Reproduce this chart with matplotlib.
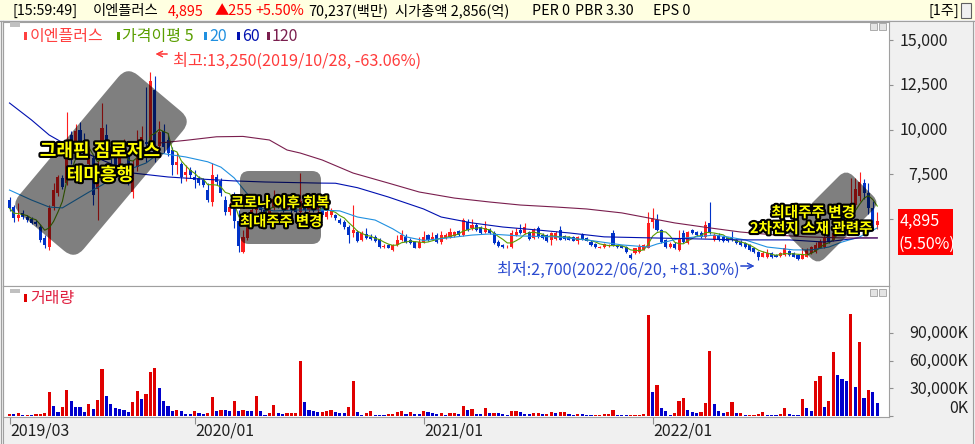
import numpy as np
import pandas as pd
import matplotlib
matplotlib.use('Agg')
import matplotlib.pyplot as plt
import matplotlib.patheffects as pe
from matplotlib.patches import Rectangle, FancyBboxPatch
from matplotlib.lines import Line2D
from matplotlib.transforms import Affine2D, blended_transform_factory, offset_copy

plt.rcParams['font.family'] = ['Noto Sans CJK KR', 'DejaVu Sans']

# ---- 데이터 (주봉, 2019/03/18 ~ 2022/12/26) ----
opens = [6050, 5650, 5050, 5350, 5100, 5000, 4850, 4550, 3950, 3450,
         5700, 6450, 7300, 7000, 9700, 9100, 10000, 9300, 8100, 8400,
         6700, 9000, 9700, 9000, 8470, 8020, 8750, 8600, 6500, 7900,
         8750, 9300, 9200, 12200, 9100, 9900, 9400, 8850, 8000, 8100,
         7450, 7740, 7350, 7300, 7180, 6620, 5950, 7350, 7120, 6060,
         5390, 6170, 4900, 3150, 3930, 4700, 5500, 5900, 5500, 5300,
         5600, 6100, 5800, 5600, 5800, 5500, 5400, 6000, 5500, 5800,
         5500, 5600, 5100, 5200, 5200, 4950, 4830, 4550, 4200, 4270,
         3800, 4150, 4000, 4000, 3880, 3450, 3550, 3270, 3550, 3830,
         4000, 3800, 3700, 3380, 3700, 4100, 3830, 4100, 3720, 3950,
         4000, 4050, 4300, 4100, 4830, 4500, 4660, 4550, 4270, 4400,
         4220, 3720, 3540, 3470, 3430, 4100, 4380, 4220, 4270, 3940,
         4500, 4100, 4100, 3830, 3880, 4380, 4050, 4000, 4000, 3770,
         4100, 3940, 3720, 3600, 3400, 3430, 3500, 4200, 3500, 3500,
         3430, 3000, 3100, 3150, 3270, 3380, 4830, 4940, 4380, 3830,
         3430, 3600, 3270, 4220, 3660, 4380, 4270, 4220, 4000, 4770,
         3830, 4100, 4000, 3950, 3990, 3830, 3720, 3660, 3550, 3380,
         3150, 2880, 2900, 3100, 3000, 2930, 3000, 3200, 3100, 2990,
         2780, 2900, 3100, 3150, 3400, 3450, 4100, 3830, 4550, 5060,
         4500, 4900, 5800, 6300, 7000, 6450, 5600, 4640]
highs = [6250, 5800, 5900, 5500, 5250, 5100, 4950, 4700, 4100, 5800,
         7000, 7460, 7450, 11000, 9900, 10300, 10400, 9800, 9100, 8600,
         8300, 11490, 10300, 9300, 8900, 9100, 9500, 8700, 8300, 9980,
         10200, 12400, 13250, 13000, 10500, 10300, 9800, 9000, 8700, 8200,
         8000, 7900, 7740, 7400, 7300, 7000, 8130, 7500, 7300, 6300,
         5950, 6500, 5500, 4400, 4900, 5800, 6300, 6100, 5700, 5800,
         6600, 6200, 5900, 6000, 5900, 5700, 7570, 6100, 6000, 5900,
         5800, 5700, 5500, 5600, 5300, 5050, 4950, 4650, 5780, 4400,
         4300, 4500, 4150, 4100, 3950, 3600, 3600, 3600, 4100, 4400,
         4150, 3950, 3750, 4000, 4300, 4150, 4280, 4200, 4300, 4200,
         4500, 4350, 4400, 5050, 5000, 5000, 4750, 4600, 4900, 4500,
         4300, 3800, 3600, 3550, 4400, 4500, 4700, 4750, 4350, 4500,
         4600, 4200, 4150, 4250, 4300, 4600, 4100, 4050, 4050, 4050,
         4200, 4000, 3800, 3650, 3500, 3650, 3600, 4400, 3550, 3550,
         3500, 3100, 3400, 3600, 3600, 5400, 5600, 5300, 4450, 3900,
         3700, 3700, 4380, 4380, 4350, 4450, 4350, 4300, 4900, 5950,
         4200, 4200, 4050, 4000, 4300, 3900, 3800, 3700, 3600, 3400,
         3200, 3200, 3300, 3150, 3050, 3150, 3600, 3250, 3150, 3050,
         3400, 3350, 3500, 3700, 3900, 4100, 4300, 4500, 5560, 5200,
         5100, 7300, 7300, 7630, 7250, 7000, 6000, 5400]
lows = [5450, 4850, 4900, 5000, 4850, 4700, 4600, 3700, 3380, 3270,
        5500, 6300, 6700, 6900, 8100, 8800, 8800, 8400, 7900, 5780,
        4950, 8800, 8700, 8000, 7600, 7800, 8600, 6900, 6200, 7700,
        8600, 8200, 9000, 8200, 8750, 8700, 8500, 7460, 7500, 7000,
        7150, 7300, 6730, 6900, 6800, 5950, 5700, 6900, 6300, 5250,
        5200, 4500, 3150, 3100, 3800, 4600, 5300, 5300, 5000, 5200,
        5500, 5600, 5400, 5500, 5300, 5250, 5300, 5300, 5400, 5400,
        5400, 5100, 5000, 5100, 4950, 4700, 4450, 3650, 4000, 3700,
        3750, 3900, 3850, 3700, 3400, 3380, 3350, 3200, 3500, 3780,
        3650, 3600, 3350, 3350, 3650, 3780, 3800, 3650, 3600, 3900,
        3950, 4000, 4050, 4050, 4300, 4400, 4300, 4150, 4200, 4150,
        3600, 3450, 3380, 3400, 3400, 4050, 4150, 4150, 3800, 3900,
        3950, 3900, 3700, 3550, 3850, 3800, 3850, 3800, 3750, 3600,
        3800, 3750, 3500, 3400, 3350, 3400, 3450, 3500, 3400, 3350,
        3100, 2760, 3050, 3100, 3250, 3350, 4500, 4300, 3650, 3380,
        3380, 3330, 3200, 3650, 3600, 4150, 4050, 3950, 3950, 4150,
        3780, 3780, 3720, 3720, 3780, 3600, 3500, 3380, 3220, 3100,
        2700, 2850, 2800, 2830, 2850, 2900, 2950, 2950, 2850, 2730,
        2750, 2880, 3050, 3100, 3350, 3400, 3650, 3780, 4400, 4700,
        4400, 4800, 5600, 6000, 6100, 5300, 4400, 4450]
closes = [5600, 5050, 5250, 5100, 4950, 4800, 4700, 3850, 3550, 5600,
          6600, 7350, 6800, 9300, 8400, 9950, 9200, 8600, 8850, 6350,
          8000, 10100, 8970, 8300, 7850, 8860, 9300, 7200, 8000, 8800,
          9600, 9200, 12700, 8700, 9850, 9000, 8700, 8020, 8200, 7350,
          7620, 7460, 7180, 7000, 6900, 6060, 7460, 7070, 6450, 5390,
          5670, 4900, 3500, 4000, 4660, 5500, 5900, 5500, 5300, 5600,
          6100, 5800, 5600, 5800, 5500, 5400, 6000, 5500, 5800, 5500,
          5700, 5200, 5400, 5500, 5050, 4780, 4550, 4100, 4380, 3770,
          4200, 3940, 3900, 3770, 3430, 3500, 3380, 3550, 3830, 4100,
          3700, 3650, 3380, 3700, 4000, 3830, 4000, 3720, 4100, 4100,
          4270, 4250, 4100, 4940, 4380, 4660, 4390, 4220, 4500, 4220,
          3660, 3490, 3430, 3500, 4220, 4270, 4220, 4550, 3880, 4380,
          4000, 3950, 3770, 4220, 4220, 3830, 3880, 3830, 3770, 4000,
          3830, 3770, 3550, 3430, 3440, 3600, 3530, 3550, 3450, 3380,
          3150, 2830, 3380, 3430, 3550, 4770, 5060, 4380, 3720, 3430,
          3600, 3380, 3940, 3720, 4270, 4220, 4100, 3990, 4660, 4220,
          4100, 3830, 3770, 3770, 3830, 3660, 3550, 3430, 3270, 3150,
          2880, 3100, 3100, 2880, 2880, 3100, 3380, 3000, 2880, 2760,
          3050, 3270, 3430, 3550, 3700, 3940, 3720, 4220, 5200, 4770,
          4900, 5700, 6700, 7070, 6450, 5600, 4600, 4895]
# 거래량 (천주)
volumes = [2200, 2000, 3300, 1100, 1200, 1100, 2200, 2300, 3300, 26000,
           10900, 4300, 9800, 28300, 16300, 9800, 9700, 4300, 13000, 7600,
           17400, 51100, 21700, 13000, 8700, 7600, 6500, 4300, 15200, 27200,
           18500, 23900, 47800, 52200, 30400, 16300, 10900, 5400, 6500, 5400,
           2200, 2100, 5400, 3300, 2200, 3300, 20600, 5400, 6500, 6400,
           5400, 16300, 5400, 6500, 5400, 5300, 21700, 5400, 1100, 3300,
           12000, 3300, 2200, 3300, 3300, 3400, 59800, 15200, 6500, 5400,
           4300, 4400, 5400, 6500, 4300, 3300, 3200, 9800, 38000, 4300,
           1100, 3300, 5400, 1100, 1050, 1000, 2200, 2200, 4300, 5400,
           2200, 4300, 2200, 2100, 5400, 4300, 3300, 2200, 3300, 1100,
           3300, 3300, 2200, 10900, 6500, 7600, 2200, 2100, 8700, 3300,
           3400, 3200, 2200, 1100, 5400, 5500, 4300, 2200, 2100, 3300,
           3400, 2200, 2300, 4300, 3300, 4300, 4400, 2200, 1100, 2200,
           2100, 1100, 1000, 1100, 1100, 2200, 2200, 6500, 1100, 1050,
           1000, 1100, 1100, 1200, 2200, 109800, 26100, 33700, 8700, 5400,
           1100, 3300, 16300, 19600, 6500, 4300, 3300, 4400, 14100, 70600,
           13000, 5400, 3300, 4300, 15200, 3300, 3400, 1100, 1100, 1100,
           2200, 4300, 1100, 1050, 1000, 2200, 8700, 2200, 1100, 1000,
           18500, 8700, 5400, 38000, 43500, 9800, 16300, 69500, 44600, 40200,
           38000, 110800, 31500, 80400, 19600, 28300, 26100, 14100]

# 이동평균선
ma20_x = [0, 5, 9, 12, 15, 18, 21, 24, 28, 31, 34, 37, 40, 45, 48, 51, 54, 56, 60, 65,
          71, 75, 79, 83, 87, 90, 94, 98, 105, 109, 116, 124, 131, 139, 145, 147, 152, 156, 160, 163,
          167, 172, 178, 182, 186, 189, 193, 197]
ma20_y = [6620, 6060, 5670, 5620, 6060, 6500, 6900, 7350, 7850, 8130, 8690, 8580, 8470, 8200, 7900, 7300, 6400, 5650, 5450, 5500,
          5500, 5450, 5110, 4940, 4450, 4000, 3800, 3900, 4100, 4160, 4050, 4000, 3830, 3550, 3430, 3600, 3900, 4000, 4100, 4000,
          3830, 3430, 3270, 3270, 3430, 3710, 4000, 4500]
ma60_x = [0, 5, 9, 13, 28, 36, 43, 51, 58, 70, 74, 79, 86, 94, 98, 105, 112, 120, 127, 135,
          146, 166, 177, 185, 193, 197]
ma60_y = [11490, 10540, 9700, 9140, 7570, 7350, 7240, 7130, 7070, 7010, 7000, 6750, 6230, 5560, 5110, 4780, 4550, 4380, 4220, 4000,
          3940, 3830, 3830, 3710, 3940, 3940]
ma120_x = [34, 40, 47, 53, 59, 63, 66, 71, 78, 86, 93, 101, 109, 116, 124, 131, 139, 145, 151, 159,
           166, 174, 181, 189, 197]
ma120_y = [9250, 9400, 9600, 9620, 9420, 8860, 8690, 8300, 7570, 7010, 6510, 6170, 5950, 5780, 5670, 5560, 5340, 5060, 4780, 4500,
           4270, 4100, 4000, 3940, 3940]

date_ticks = [0, 42, 94, 146]
date_labels = ['2019/03', '2020/01', '2021/01', '2022/01']
price_ticks = [5000, 7500, 10000, 12500, 15000]
vol_ticks = [0, 30000, 60000, 90000]

W, H = 975, 444
RED = '#FF1E1E'
BLUE = '#0032C8'


def fxy(x, y):
    return x / W, 1 - y / H


fig = plt.figure(figsize=(W / 100, H / 100), dpi=100)
fig.patch.set_facecolor('#F0F0F0')

# 상단 정보줄
fig.add_artist(Rectangle((0, 1 - 20.5 / H), 1, 20.5 / H, transform=fig.transFigure,
                         facecolor='#FFFFE1', edgecolor='none'))
fig.add_artist(Line2D([0, 1], [1 - 20.8 / H] * 2, transform=fig.transFigure, color='#A0A0A0', lw=0.8))
for x, s, c in [(12, '[15:59:49]', 'black'), (93, '이엔플러스', 'black'), (168, '4,895', '#FF0000'),
                (215, '▲255', '#FF0000'), (255, '+5.50%', '#FF0000'), (308, '70,237(백만)', 'black'),
                (395, '시가총액 2,856(억)', 'black'), (532, 'PER 0', 'black'), (575, 'PBR 3.30', 'black'),
                (653, 'EPS 0', 'black'), (928, '[1주]', 'black')]:
    fig.text(*fxy(x, 11), s, color=c, fontsize=10.3, va='center', ha='left')
fig.add_artist(Rectangle(fxy(961, 18), 10 / W, 15 / H, transform=fig.transFigure,
                         facecolor='#F0F0F0', edgecolor='#606060', lw=0.8))

# 패널
ax_p = fig.add_axes([3 / W, 1 - 286 / H, 886 / W, 264.5 / H])
ax_v = fig.add_axes([3 / W, 1 - 417.3 / H, 886 / W, 131.3 / H])
for ax in (ax_p, ax_v):
    ax.set_facecolor('white')
    ax.set_xlim(-1.476, 199.66)
    for s in ax.spines.values():
        s.set_color('#A0A0A0')
        s.set_linewidth(0.8)
    ax.yaxis.set_ticks_position('right')
    ax.tick_params(axis='y', direction='out', length=3, width=0.8, color='#909090',
                   labelright=False, labelleft=False)
ax_p.set_ylim(1250, 16050)
ax_v.set_ylim(-1400, 140800)
ax_p.set_xticks([])
ax_p.set_yticks(price_ticks)
ax_v.set_yticks(vol_ticks)
ax_v.set_xticks(date_ticks)
ax_v.tick_params(axis='x', direction='out', length=5, width=0.8, color='#909090', labelbottom=False)

# 캔들
o, h, l, c = map(np.array, (opens, highs, lows, closes))
x = np.arange(len(o))
cols = np.where(c >= o, RED, BLUE)
ax_p.vlines(x, l, h, colors=cols, lw=0.8, zorder=3)
ax_p.bar(x, np.maximum(np.abs(c - o), 45), bottom=np.minimum(o, c), width=0.7,
         color=cols, linewidth=0, zorder=3)

# 이동평균
ma5 = pd.Series(closes).rolling(5, min_periods=1).mean()
ax_p.plot(x, ma5, color='#5A9E00', lw=0.8, zorder=4)
ax_p.plot(ma20_x, ma20_y, color='#2090E0', lw=0.8, zorder=4)
ax_p.plot(ma60_x, ma60_y, color='#0010B0', lw=0.8, zorder=4)
ax_p.plot(ma120_x, ma120_y, color='#7A1E4E', lw=0.8, zorder=4)

# 거래량 (전주 대비 증가 빨강 / 감소 파랑)
v = np.array(volumes)
vup = np.r_[True, v[1:] >= v[:-1]]
ax_v.bar(x, v, width=0.72, color=np.where(vup, '#E00000', '#0000CC'), linewidth=0)

# 축 라벨
tp = blended_transform_factory(ax_p.transAxes, ax_p.transData)
for t in price_ticks[1:]:
    ax_p.text(1.0666, t, f'{t:,}', transform=offset_copy(tp, fig=fig, y=-1, units='dots'),
              ha='right', va='center', fontsize=11.5, color='#202020', clip_on=False)
tv = blended_transform_factory(ax_v.transAxes, ax_v.transData)
for t in vol_ticks:
    dy = 8 if t == 0 else -1
    ax_v.text(1.0891, t, f'{t:,}K', transform=offset_copy(tv, fig=fig, y=dy, units='dots'),
              ha='right', va='center', fontsize=11.5, color='#202020', clip_on=False)
td = offset_copy(blended_transform_factory(ax_v.transData, fig.transFigure), fig=fig, x=1, units='dots')
for t, s in zip(date_ticks, date_labels):
    ax_v.text(t, 1 - 431 / H, s, transform=td, ha='left', va='center', fontsize=11.5,
              color='#202020', clip_on=False)

# 현재가 박스
fig.add_artist(Rectangle(fxy(898, 255), 55 / W, 46 / H, transform=fig.transFigure,
                         facecolor='#FF0000', edgecolor='none'))
fig.text(*fxy(900, 221), f'{closes[-1]:,}', color='white', fontsize=11.5, va='center')
fig.text(*fxy(899, 244), '(5.50%)', color='white', fontsize=11.5, va='center')

# 범례
for mx, tx, s, col in [(24, 30, '이엔플러스', '#FF4040'), (117, 122, '가격이평 5', '#5A9E00'),
                       (204, 209, '20', '#2090E0'), (237, 242, '60', '#0010B0'),
                       (267, 272, '120', '#7A1E4E')]:
    fig.add_artist(Rectangle(fxy(mx, 40), 2.5 / W, 8 / H, transform=fig.transFigure,
                             facecolor=col, edgecolor='none'))
    fig.text(*fxy(tx, 36), s, color=col, fontsize=11.5, va='center')
fig.add_artist(Rectangle(fxy(24, 302), 2.5 / W, 8 / H, transform=fig.transFigure,
                         facecolor='#E00000', edgecolor='none'))
fig.text(*fxy(30, 298), '거래량', color='#E02040', fontsize=11.5, va='center')

# 패널 장식
for y0 in (27, 293):
    fig.add_artist(Rectangle(fxy(10, y0), 10 / W, 4.5 / H, transform=fig.transFigure,
                             facecolor='#C0C0C0', edgecolor='none'))
    for bx in (870, 879):
        fig.add_artist(Rectangle(fxy(bx, y0 + 3), 7 / W, 7 / H, transform=fig.transFigure,
                                 facecolor='#E4E4E4', edgecolor='#A0A0A0', lw=0.6))
for lx in (0.5, 2.5):
    fig.add_artist(Line2D([lx / W] * 2, [0, 1 - 21 / H], transform=fig.transFigure, color='#A0A0A0', lw=0.8))
fig.add_artist(Line2D([972.5 / W] * 2, [0, 1 - 21 / H], transform=fig.transFigure, color='#A0A0A0', lw=0.8))

# 최고/최저 표시
fig.text(*fxy(173, 61), '최고:13,250(2019/10/28, -63.06%)', color='#FF3B3B', fontsize=11.7, va='center')
fig.add_artist(plt.annotate('', xy=(153, H - 54), xytext=(170, H - 54), xycoords='figure pixels',
                            textcoords='figure pixels',
                            arrowprops=dict(arrowstyle='->', color='#FF3B3B', lw=0.8)))
fig.text(*fxy(497, 270), '최저:2,700(2022/06/20, +81.30%)', color='#2B4BD0', fontsize=11.7, va='center')
fig.add_artist(plt.annotate('', xy=(757, H - 266), xytext=(738, H - 266), xycoords='figure pixels',
                            textcoords='figure pixels',
                            arrowprops=dict(arrowstyle='->', color='#2B4BD0', lw=0.8)))

# 반투명 박스와 설명
def grey_box(cx, cy, w, hh, ang, r):
    p = FancyBboxPatch((-w / 2, -hh / 2), w, hh, boxstyle=f'round,pad=0,rounding_size={r}',
                       facecolor='black', alpha=0.5, edgecolor='none',
                       transform=Affine2D().rotate_deg(ang).translate(cx, H - cy))
    fig.add_artist(p)


grey_box(101, 163, 182, 84, 50, 14)
grey_box(280.5, 207.5, 81, 73, 0, 9)
grey_box(832, 217, 88, 48, 45, 10)

stroke = [pe.withStroke(linewidth=3, foreground='black')]
for cx, cy, s, fs in [(100, 151, '그래핀 짐로저스', 13), (100, 175, '테마흥행', 13),
                      (280, 203, '코로나 이후 회복', 10.3), (281, 222, '최대주주 변경', 10.3),
                      (813, 212, '최대주주 변경', 10.5), (811, 228, '2차전지 소재 관련주', 10.5)]:
    fig.text(*fxy(cx, cy), s, color='#FFFF00', fontsize=fs, fontweight='bold',
             ha='center', va='center', path_effects=stroke)

fig.savefig('out.png', dpi=100)
